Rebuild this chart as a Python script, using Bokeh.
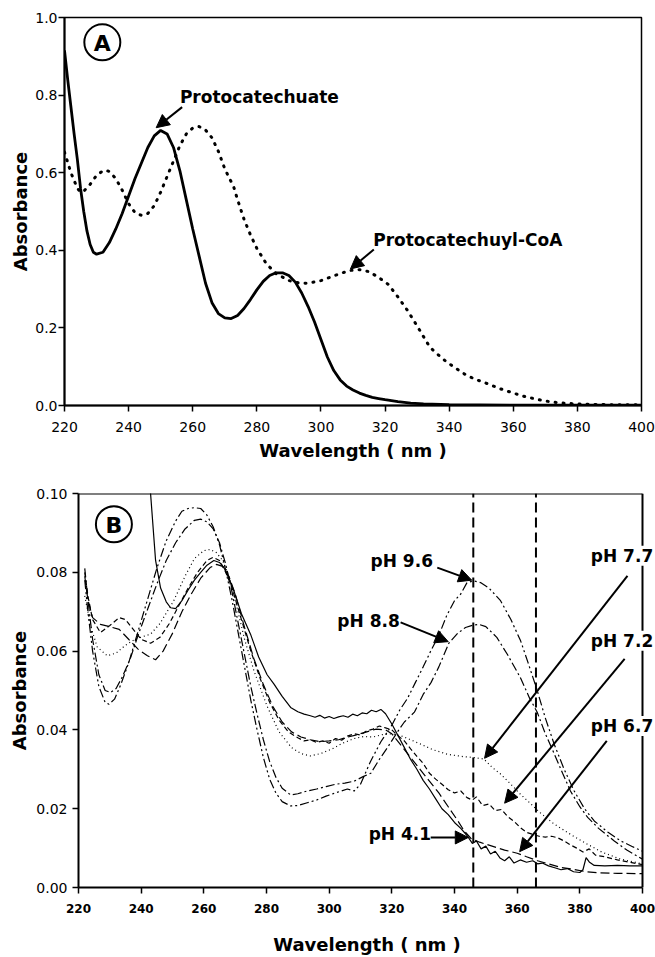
from bokeh.plotting import figure
from bokeh.models import Arrow, NormalHead, Label, FixedTicker, NumeralTickFormatter
from bokeh.embed import file_html
from bokeh.resources import INLINE

# ---------------- data ----------------
x_ticks = [220, 240, 260, 280, 300, 320, 340, 360, 380, 400]
a_y_ticks = [0.0, 0.2, 0.4, 0.6, 0.8, 1.0]
b_y_ticks = [0.0, 0.02, 0.04, 0.06, 0.08, 0.10]
b_marker_wl = [346, 366]

# Panel A: (wavelength nm, absorbance)
a_protocatechuate = [
    (220, 0.915), (221, 0.84), (222, 0.77), (223, 0.70), (224, 0.635), (225, 0.56),
    (226, 0.50), (227, 0.45), (228, 0.415), (229, 0.395), (230, 0.39), (232, 0.395),
    (234, 0.42), (236, 0.455), (238, 0.495), (240, 0.54), (242, 0.585), (244, 0.625),
    (246, 0.665), (248, 0.695), (250, 0.709), (252, 0.70), (254, 0.665), (256, 0.605),
    (258, 0.53), (260, 0.455), (262, 0.385), (264, 0.315), (266, 0.265), (268, 0.237),
    (270, 0.226), (272, 0.224), (274, 0.232), (276, 0.25), (278, 0.273), (280, 0.298),
    (282, 0.32), (284, 0.335), (286, 0.342), (288, 0.342), (290, 0.335), (292, 0.318),
    (294, 0.29), (296, 0.255), (298, 0.215), (300, 0.17), (302, 0.125), (304, 0.09),
    (306, 0.066), (308, 0.05), (310, 0.04), (312, 0.032), (314, 0.026), (316, 0.021),
    (318, 0.018), (320, 0.015), (324, 0.01), (328, 0.006), (332, 0.004), (340, 0.002),
    (360, 0.001), (380, 0.001), (400, 0.001),
]
a_protocatechuyl_coa = [
    (220, 0.653), (222, 0.60), (224, 0.56), (225, 0.55), (226, 0.552), (228, 0.57),
    (230, 0.593), (232, 0.605), (233, 0.606), (234, 0.603), (236, 0.585), (238, 0.555),
    (240, 0.52), (242, 0.497), (244, 0.49), (246, 0.495), (248, 0.515), (250, 0.55),
    (252, 0.59), (254, 0.63), (256, 0.67), (258, 0.70), (260, 0.715), (262, 0.719),
    (264, 0.71), (266, 0.69), (268, 0.655), (270, 0.61), (272.8, 0.563), (274, 0.53),
    (276, 0.48), (278, 0.44), (280, 0.405), (283, 0.365), (286, 0.34), (290, 0.322),
    (293, 0.316), (296, 0.315), (300, 0.322), (303, 0.331), (306, 0.34), (309, 0.348),
    (312, 0.350), (315, 0.345), (318, 0.33), (321, 0.312), (324, 0.28), (327, 0.245),
    (330, 0.205), (334, 0.15), (338, 0.12), (341.5, 0.099), (345, 0.08), (348, 0.068),
    (352, 0.056), (356, 0.043), (360, 0.032), (364, 0.022), (368, 0.015), (372, 0.009),
    (376, 0.006), (380, 0.004), (385, 0.003), (390, 0.002), (400, 0.002),
]

# Panel B: (wavelength nm, absorbance) per pH
b_ph41 = [
    (242.0, 0.106), (243.0, 0.100), (244.6, 0.083), (246.2, 0.076), (248.0, 0.0725),
    (249.4, 0.071), (251.0, 0.0708), (253.0, 0.0728), (255.0, 0.0755), (257.0, 0.078),
    (259.0, 0.080), (261.0, 0.0818), (263.2, 0.083), (265.0, 0.0825), (266.4, 0.0812),
    (268.0, 0.0785), (269.6, 0.0753), (272.0, 0.0695), (274.9, 0.0643), (277.5, 0.0585),
    (280.2, 0.054), (282.4, 0.0516), (285.0, 0.0485), (287.7, 0.0457), (290.0, 0.0446),
    (292.0, 0.0440), (294.0, 0.0436), (295.5, 0.0432), (297.0, 0.0437), (298.5, 0.0430),
    (300.0, 0.0434), (301.5, 0.0429), (303.0, 0.0433), (304.5, 0.0436), (306.0, 0.0432),
    (307.5, 0.0440), (309.0, 0.0436), (310.5, 0.0443), (312.0, 0.0441), (313.5, 0.0450),
    (315.0, 0.0446), (316.5, 0.0452), (318.0, 0.0441), (320.0, 0.0415), (322.0, 0.0385),
    (324.0, 0.0355), (326.0, 0.0325), (328.0, 0.0300), (330.0, 0.0272), (332.0, 0.0250),
    (334.0, 0.0225), (336.0, 0.0200), (338.0, 0.0185), (340.0, 0.0165), (342.0, 0.0150),
    (344.0, 0.0132), (345.7, 0.0112), (347.0, 0.0118), (348.5, 0.0098), (350.0, 0.0105),
    (351.5, 0.0085), (353.0, 0.0092), (354.5, 0.0075), (356.0, 0.0068), (357.5, 0.0078),
    (359.0, 0.0062), (361.0, 0.0070), (363.0, 0.0064), (365.0, 0.0068), (366.5, 0.0060),
    (368.0, 0.0062), (370.0, 0.0055), (372.0, 0.0050), (374.0, 0.0045), (376.0, 0.0048),
    (378.0, 0.0040), (380.0, 0.0038), (381.0, 0.0045), (382.0, 0.0076), (383.0, 0.0065),
    (384.6, 0.0056), (388.0, 0.0055), (392.0, 0.0056), (396.0, 0.0055), (400.0, 0.0055),
]
b_ph67 = [
    (222, 0.079), (223, 0.073), (224.5, 0.0685), (227, 0.0668), (230, 0.0662), (233, 0.0655),
    (236, 0.063), (239, 0.0605), (242, 0.0588), (244.6, 0.0578), (247, 0.060), (250, 0.0645),
    (253, 0.0700), (256, 0.0745), (259, 0.0785), (262, 0.0812), (264, 0.0820), (266, 0.0815),
    (268, 0.0790), (270, 0.0745), (273, 0.0660), (276, 0.0580), (279, 0.0515), (282, 0.0460),
    (285, 0.0420), (288, 0.0395), (291, 0.0382), (294, 0.0375), (297, 0.0370), (300, 0.0372),
    (303, 0.0375), (306, 0.0382), (309, 0.0388), (312, 0.0395), (315, 0.0402), (318, 0.0400),
    (320, 0.0390), (323, 0.0360), (326, 0.0330), (329, 0.0300), (332, 0.0270), (335, 0.0240),
    (338, 0.0205), (341, 0.0170), (343, 0.0145), (345.2, 0.0125), (348, 0.0115), (352, 0.0105),
    (356, 0.0095), (360, 0.0087), (363, 0.0078), (366.5, 0.0068), (370, 0.0060),
    (373.9, 0.0051), (378, 0.0046), (382, 0.0040), (386, 0.0037), (392, 0.0036), (400, 0.0035),
]
b_ph72 = [
    (222, 0.080), (223, 0.074), (224.5, 0.068), (227, 0.0647), (230, 0.0665), (233, 0.0685),
    (235, 0.0680), (237, 0.0660), (240, 0.0630), (243, 0.0620), (246, 0.0635), (249, 0.0670),
    (252, 0.0715), (255, 0.0760), (258, 0.0800), (261, 0.0830), (263, 0.0838), (265, 0.0830),
    (267, 0.0800), (269, 0.0760), (272, 0.0680), (275, 0.0600), (278, 0.0530), (281, 0.0470),
    (284, 0.0425), (287, 0.0395), (290, 0.0380), (292, 0.0372), (294, 0.0375), (296, 0.0368),
    (298, 0.0372), (300, 0.0366), (302, 0.0378), (304, 0.0374), (306, 0.0385), (308, 0.0390),
    (310, 0.0387), (312, 0.0398), (314, 0.0402), (316, 0.0410), (318, 0.0405), (320, 0.0400),
    (322, 0.0385), (324, 0.0372), (326, 0.0352), (328, 0.0333), (330, 0.0315), (332, 0.0290),
    (334, 0.0275), (336, 0.0262), (338, 0.0248), (340, 0.0240), (342, 0.0245), (344, 0.0228),
    (345.7, 0.0222), (347, 0.0230), (349, 0.0208), (351, 0.0212), (353, 0.0195), (355, 0.0198),
    (357, 0.0180), (359, 0.0168), (361, 0.0152), (363, 0.0140), (365, 0.0135), (367, 0.0130),
    (369, 0.0128), (371, 0.0130), (373, 0.0126), (375, 0.0118), (377, 0.0108), (379, 0.0100),
    (381, 0.0090), (383, 0.0098), (385, 0.0082), (388, 0.0078), (392, 0.0070), (396, 0.0064),
    (400, 0.0058),
]
b_ph77 = [
    (222, 0.074), (224, 0.066), (226, 0.061), (229.2, 0.0588), (232, 0.0595), (235, 0.0615),
    (238, 0.0630), (241, 0.0638), (243, 0.0643), (246, 0.0670), (250.4, 0.0728), (254, 0.0790),
    (257, 0.0835), (260, 0.0855), (262, 0.0858), (264, 0.0850), (266, 0.0830), (268, 0.0790),
    (270, 0.0730), (273, 0.0630), (276, 0.0550), (280.2, 0.0460), (284, 0.0395), (288, 0.0355),
    (291, 0.0340), (294, 0.0334), (297.3, 0.0340), (301, 0.0352), (304, 0.0365), (307.9, 0.0378),
    (311, 0.0383), (314, 0.0382), (317, 0.0388), (320, 0.0390), (323, 0.0385), (326, 0.0375),
    (329.2, 0.0364), (333, 0.0350), (337.8, 0.0338), (343, 0.0332), (346, 0.0330),
    (349.4, 0.0326), (352, 0.0305), (354.7, 0.0288), (358, 0.0262), (361, 0.0237),
    (364, 0.0215), (367, 0.0192), (371.8, 0.0161), (377, 0.0135), (382.4, 0.0110),
    (387, 0.0090), (393, 0.0072), (400, 0.0060),
]
b_ph88 = [
    (222, 0.081), (223, 0.073), (224.5, 0.063), (226.5, 0.054), (228.5, 0.0500), (230.2, 0.0495),
    (232, 0.0505), (234, 0.0535), (236.5, 0.0580), (239, 0.0640), (242, 0.0705), (245, 0.0770),
    (248, 0.0830), (251, 0.0875), (254, 0.0910), (257, 0.0932), (259, 0.0935), (261, 0.0928),
    (263, 0.0910), (265, 0.0875), (267, 0.0820), (269, 0.0750), (271, 0.0670), (273, 0.0590),
    (275, 0.0510), (277, 0.0440), (279, 0.0375), (281, 0.0320), (283, 0.0280), (285, 0.0252),
    (287.7, 0.0235), (290, 0.0238), (293, 0.0245), (296, 0.0250), (299, 0.0256), (302, 0.0262),
    (305, 0.0265), (308, 0.0270), (311, 0.0282), (313.3, 0.0290), (316, 0.0325), (318.6, 0.0355),
    (321.8, 0.0395), (324, 0.0420), (327.2, 0.0445), (330, 0.0490), (332.5, 0.0520),
    (335, 0.0560), (338.2, 0.0620), (341, 0.0645), (343.5, 0.0660), (346, 0.0666),
    (347.8, 0.0668), (350, 0.0662), (353.5, 0.0635), (357, 0.0590), (361, 0.0533),
    (364, 0.0480), (366.4, 0.0445), (369, 0.0390), (371.8, 0.0340), (374.5, 0.0290),
    (377, 0.0245), (380, 0.0205), (382.5, 0.0178), (386, 0.0150), (391, 0.0118),
    (395, 0.0095), (400, 0.0072),
]
b_ph96 = [
    (222, 0.078), (223, 0.070), (224.5, 0.060), (226.5, 0.051), (228.5, 0.0470), (229.7, 0.0465),
    (231.5, 0.0478), (233.5, 0.0515), (236, 0.0570), (239, 0.0650), (242, 0.0730), (245, 0.0810),
    (248, 0.0880), (251, 0.0930), (253, 0.0955), (255, 0.0962), (257, 0.0964), (259, 0.0962),
    (261, 0.0945), (263, 0.0915), (265, 0.0870), (267, 0.0805), (269, 0.0730), (271, 0.0645),
    (273, 0.0560), (275, 0.0475), (277, 0.0400), (279, 0.0330), (281, 0.0275), (283, 0.0240),
    (285, 0.0218), (287.7, 0.0207), (290, 0.0208), (293, 0.0215), (296, 0.0222), (299, 0.0232),
    (302, 0.0240), (305.8, 0.0250), (308, 0.0245), (310, 0.0262), (313.2, 0.0320),
    (316.5, 0.0370), (320, 0.0412), (322.5, 0.0450), (325, 0.0480), (327.5, 0.0520),
    (330, 0.0560), (332.4, 0.0600), (335, 0.0640), (337.5, 0.0690), (340, 0.0728),
    (342, 0.0745), (344, 0.0774), (346.2, 0.0778), (348.3, 0.0774), (351, 0.0760),
    (354.7, 0.0728), (358, 0.0680), (361.1, 0.0626), (363.5, 0.0570), (366.2, 0.0505),
    (369, 0.0430), (371.8, 0.0364), (375, 0.0300), (378.2, 0.0245), (381.5, 0.0200),
    (384.6, 0.0169), (389, 0.0140), (393.1, 0.0118), (397, 0.0103), (400, 0.0092),
]

FONT = "DejaVu Sans"


def split(pairs):
    return [p[0] for p in pairs], [p[1] for p in pairs]


def style_axes(p, yfmt, xbold, xsize):
    p.xgrid.visible = False
    p.ygrid.visible = False
    p.outline_line_color = "black"
    p.outline_line_width = 1.5
    p.outline_line_alpha = 1.0
    p.background_fill_color = "white"
    p.border_fill_color = "white"
    for ax in (p.xaxis[0], p.yaxis[0]):
        ax.axis_line_color = "black"
        ax.axis_line_width = 2
        ax.major_tick_line_color = "black"
        ax.major_tick_line_width = 1.5
        ax.major_tick_in = 0
        ax.major_tick_out = 6
        ax.minor_tick_in = 0
        ax.minor_tick_out = 0
        ax.major_label_text_color = "black"
        ax.major_label_text_font = FONT
        ax.axis_label_text_font = FONT
        ax.axis_label_text_font_style = "bold"
        ax.axis_label_text_font_size = "18px"
        ax.axis_label_text_color = "black"
    p.xaxis[0].ticker = FixedTicker(ticks=x_ticks)
    p.xaxis[0].major_label_text_font_size = xsize
    p.xaxis[0].major_label_text_font_style = "bold" if xbold else "normal"
    p.yaxis[0].formatter = NumeralTickFormatter(format=yfmt)
    p.yaxis[0].major_label_text_font_size = "14px"
    p.xaxis[0].axis_label = "Wavelength ( nm )"
    p.yaxis[0].axis_label = "Absorbance"


def badge(p, x, y, letter):
    p.scatter(x=[x], y=[y], marker="circle", size=36, fill_color="white",
              line_color="black", line_width=2)
    p.add_layout(Label(x=x, y=y, text=letter, text_align="center", text_baseline="middle",
                       text_font=FONT, text_font_style="bold", text_font_size="22px",
                       text_color="black", y_offset=-1))


def note(p, x, y, text):
    p.add_layout(Label(x=x, y=y, text=text, text_align="left", text_baseline="middle",
                       text_font=FONT, text_font_style="bold", text_font_size="17px",
                       text_color="black", background_fill_color="white"))


def arrow(p, x0, y0, x1, y1):
    p.add_layout(Arrow(end=NormalHead(size=13, fill_color="black", line_color="black",
                                      line_width=1),
                       x_start=x0, y_start=y0, x_end=x1, y_end=y1,
                       line_color="black", line_width=2))


# ---------------- panel A ----------------
pA = figure(width=655, height=465, x_range=(220, 400), y_range=(0, 1.0),
            output_backend="svg", toolbar_location=None,
            min_border_left=64, min_border_right=14, min_border_top=17, min_border_bottom=60)
style_axes(pA, "0.0", False, "14px")
pA.yaxis[0].ticker = FixedTicker(ticks=a_y_ticks)
pA.xaxis[0].major_label_standoff = 10
pA.xaxis[0].axis_label_standoff = 5
pA.yaxis[0].major_label_standoff = 1
pA.yaxis[0].axis_label_standoff = 1

xw, yv = split(a_protocatechuate)
pA.line(xw, yv, line_color="black", line_width=2.8)
xw, yv = split(a_protocatechuyl_coa)
pA.line(xw, yv, line_color="black", line_width=3, line_dash="1 7", line_cap="round")

badge(pA, 231.8, 0.936, "A")
note(pA, 256.0, 0.794, "Protocatechuate")
arrow(pA, 256.7, 0.769, 248.6, 0.716)
note(pA, 316.3, 0.427, "Protocatechuyl-CoA")
arrow(pA, 316.5, 0.402, 309.2, 0.352)

# ---------------- panel B ----------------
# frame reaches the right edge so the right-hand labels are not clipped;
# the visible box is closed at 400 nm with segments
B_X_END = 400 + 13.0 / 3.132
pB = figure(width=655, height=492, x_range=(220, B_X_END), y_range=(0, 0.10),
            output_backend="svg", toolbar_location=None,
            min_border_left=78, min_border_right=0, min_border_top=28, min_border_bottom=70)
style_axes(pB, "0.00", True, "12px")
pB.outline_line_color = None
pB.xaxis[0].bounds = (220, 400)
pB.yaxis[0].ticker = FixedTicker(ticks=b_y_ticks)
pB.xaxis[0].major_label_standoff = 10
pB.xaxis[0].axis_label_standoff = 18
pB.yaxis[0].major_label_standoff = 5
pB.yaxis[0].axis_label_standoff = 3

# box: top and right edges
pB.segment(x0=[220, 400], y0=[0.10, 0.0], x1=[400, 400], y1=[0.10, 0.10],
           line_color="black", line_width=2)

for wl in b_marker_wl:
    pB.segment(x0=[wl], y0=[0.0], x1=[wl], y1=[0.10], line_color="black",
               line_width=2, line_dash="10 5")

b_styles = [
    (b_ph41, "solid"),
    (b_ph67, "9 4"),
    (b_ph72, "5 3"),
    (b_ph77, "1 3"),
    (b_ph88, "9 3 2 3"),
    (b_ph96, "9 3 2 3 2 3"),
]
for pairs, dash in b_styles:
    xw, yv = split(pairs)
    pB.line(xw, yv, line_color="black", line_width=1.2, line_dash=dash)

badge(pB, 231.3, 0.0922, "B")
note(pB, 313.2, 0.0829, "pH 9.6")
arrow(pB, 334.5, 0.0812, 345.5, 0.0780)
note(pB, 302.6, 0.0677, "pH 8.8")
arrow(pB, 322.8, 0.0673, 338.0, 0.0624)
note(pB, 383.5, 0.0842, "pH 7.7")
arrow(pB, 395.2, 0.0791, 349.6, 0.0328)
note(pB, 383.5, 0.0626, "pH 7.2")
arrow(pB, 394.3, 0.0580, 356.0, 0.0214)
note(pB, 383.5, 0.0410, "pH 6.7")
arrow(pB, 388.6, 0.0372, 360.8, 0.0091)
note(pB, 312.6, 0.0136, "pH 4.1")
arrow(pB, 332.4, 0.0127, 344.4, 0.0127)

open("out.html", "w").write(file_html([pA, pB], INLINE))
